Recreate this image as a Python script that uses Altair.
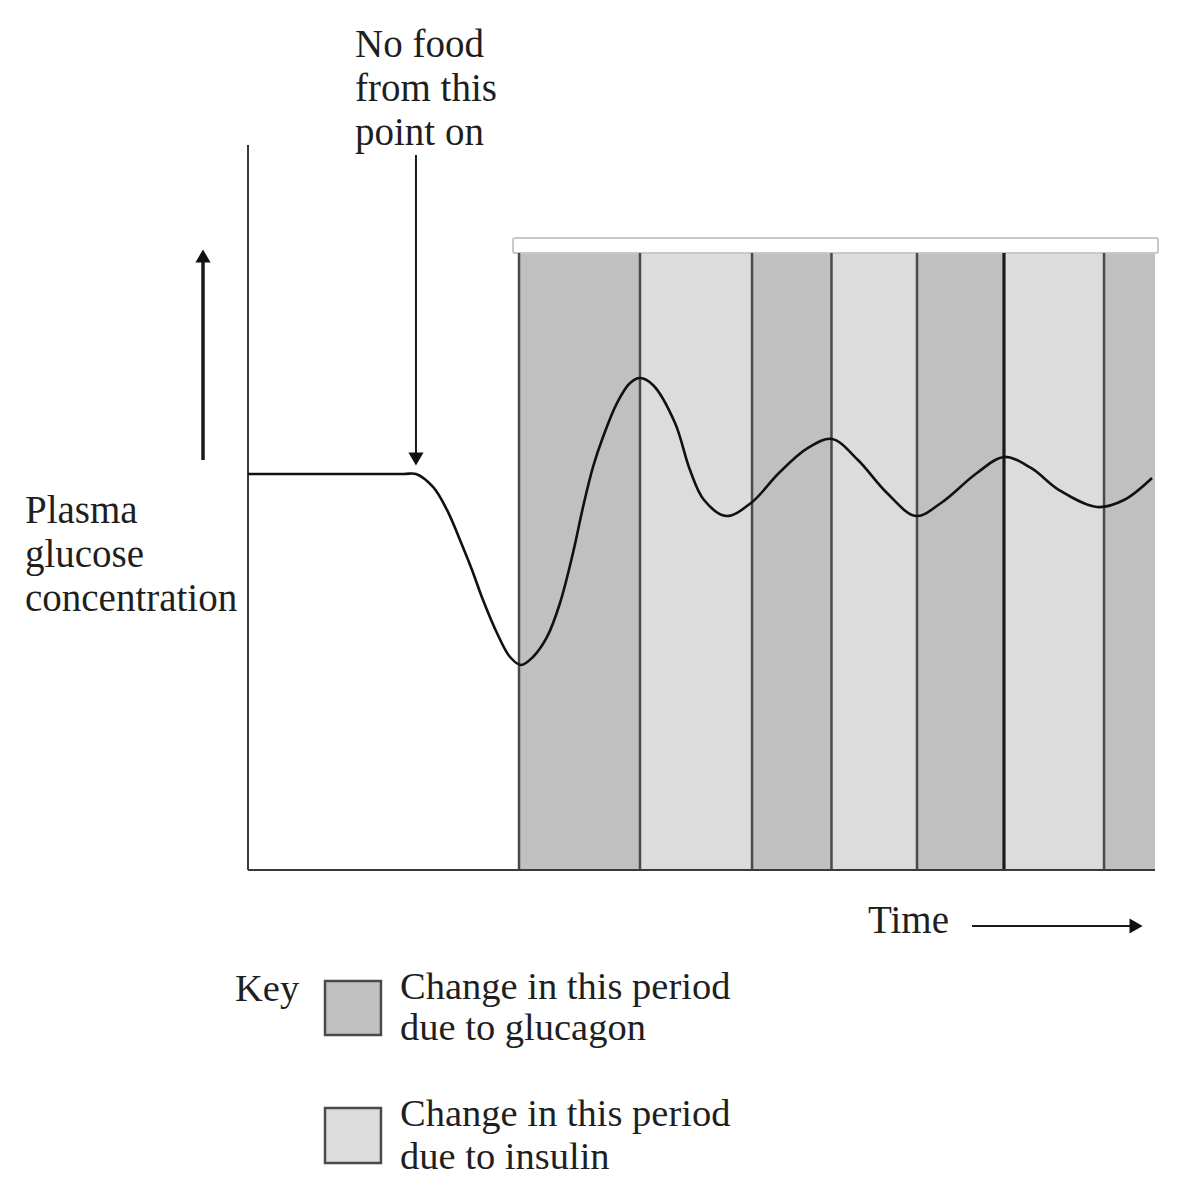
import altair as alt
import pandas as pd

# ---------------- data (time and glucose in arbitrary units, 0-100) ----------------
curve_time = [0.00, 10.0, 17.20, 18.52, 20.40, 21.94, 23.37, 24.70, 25.91, 27.45, 28.89, 30.10,
              31.42, 32.97, 34.40, 35.83, 36.94, 38.04, 39.14, 40.68, 42.12, 43.22,
              44.65, 47.08, 48.73, 50.28, 52.70, 55.46, 58.54, 61.74, 64.39, 67.25,
              70.45, 73.65, 76.41, 80.37, 83.35, 86.33, 89.42, 93.61, 96.58, 99.67]
curve_glucose = [54.62, 54.62, 54.62, 54.62, 52.83, 49.66, 45.52, 41.38, 37.24, 32.69, 29.38, 28.28,
                 29.38, 32.14, 36.83, 43.72, 50.07, 55.59, 59.72, 64.41, 67.17, 67.86,
                 66.90, 61.66, 55.17, 51.03, 48.83, 50.62, 54.76, 58.21, 59.45, 56.55,
                 52.00, 48.83, 50.62, 54.76, 56.97, 55.45, 52.41, 50.07, 51.03, 54.07]

band_start = [29.88, 43.22, 55.57, 64.33, 73.76, 83.35, 94.38]
band_end = [43.22, 55.57, 64.33, 73.76, 83.35, 94.38, 100.0]
band_hormone = ["glucagon", "insulin", "glucagon", "insulin", "glucagon", "insulin", "glucagon"]
boundary_dark = [False, False, False, False, False, True, False]
band_top = 85.1

hormones = ["glucagon", "insulin"]
hormone_colors = ["#c0c0c0", "#dcdcdc"]

note_lines = ["No food", "from this", "point on"]
ylabel_lines = ["Plasma", "glucose", "concentration"]
xlabel = "Time"
key_title = "Key"
key_lines = ["Change in this period", "due to glucagon", "Change in this period", "due to insulin"]

# ---------------- scales ----------------
xs = alt.Scale(domain=[0, 100], nice=False, zero=False)
ys = alt.Scale(domain=[0, 100], nice=False, zero=False)


def X(f):
    return alt.X(f, type="quantitative", scale=xs, axis=None)


def Y(f):
    return alt.Y(f, type="quantitative", scale=ys, axis=None)


color_enc = alt.Color("hormone:N", scale=alt.Scale(domain=hormones, range=hormone_colors), legend=None)
FONT = "Liberation Serif"
TXT = "#1f1f1f"

# bands
bands_df = pd.DataFrame({"t0": band_start, "t1": band_end, "hormone": band_hormone,
                         "g0": [0] * len(band_start), "g1": [band_top] * len(band_start)})
bands = alt.Chart(bands_df).mark_rect().encode(
    x=X("t0"), x2="t1", y=Y("g0"), y2="g1", color=color_enc)

# white strip above bands
strip_df = pd.DataFrame({"t0": [29.22], "t1": [100.33], "g0": [band_top], "g1": [87.17]})
strip = alt.Chart(strip_df).mark_rect(fill="white", stroke="#c8c8c8", strokeWidth=2, cornerRadius=2).encode(
    x=X("t0"), x2="t1", y=Y("g0"), y2="g1")

# period boundaries
bound_df = pd.DataFrame({"t": band_start, "g0": [0] * len(band_start), "g1": [band_top] * len(band_start),
                         "dark": boundary_dark})
bounds = alt.Chart(bound_df).mark_rule(color="#4a4a4a", strokeWidth=2.5).encode(
    x=X("t"), y=Y("g0"), y2="g1").transform_filter("!datum.dark")
bounds_dark = alt.Chart(bound_df).mark_rule(color="#1a1a1a", strokeWidth=3.2).encode(
    x=X("t"), y=Y("g0"), y2="g1").transform_filter("datum.dark")

# axes lines
axes_df = pd.DataFrame({"t0": [0, 0], "t1": [0, 100], "g0": [0, 0], "g1": [100, 0]})
axes = alt.Chart(axes_df).mark_rule(color="#3a3a3a", strokeWidth=2).encode(
    x=X("t0"), x2="t1", y=Y("g0"), y2="g1")

# glucose curve
curve_df = pd.DataFrame({"t": curve_time, "g": curve_glucose})
curve = alt.Chart(curve_df).mark_line(interpolate="catmull-rom", color="#111111", strokeWidth=2.6).encode(
    x=X("t"), y=Y("g"))

# arrows (shafts)
shaft_df = pd.DataFrame({"t0": [-4.96, 18.52, 79.82], "t1": [-4.96, 18.52, 97.46],
                         "g0": [56.55, 98.62, -7.72], "g1": [83.86, 57.24, -7.72],
                         "thick": [True, False, False]})
shafts = alt.Chart(shaft_df).mark_rule(color="#1a1a1a", strokeWidth=2).encode(
    x=X("t0"), x2="t1", y=Y("g0"), y2="g1").transform_filter("!datum.thick")
shafts_thick = alt.Chart(shaft_df).mark_rule(color="#1a1a1a", strokeWidth=3.5).encode(
    x=X("t0"), x2="t1", y=Y("g0"), y2="g1").transform_filter("datum.thick")

heads_df = pd.DataFrame({"t": [-4.96, 18.52, 97.91], "g": [84.69, 56.69, -7.72],
                         "shape": ["triangle-up", "triangle-down", "triangle-right"]})
heads = alt.Chart(heads_df).mark_point(filled=True, color="#111111", opacity=1, size=230).encode(
    x=X("t"), y=Y("g"),
    shape=alt.Shape("shape:N", scale=None))

# texts
text_df = pd.DataFrame({
    "t": [11.80] * 3 + [-24.59] * 3 + [68.36],
    "g": [112.14, 106.07, 100.0, 47.86, 41.79, 35.72, -8.69],
    "label": note_lines + ylabel_lines + [xlabel],
})
texts = alt.Chart(text_df).mark_text(align="left", baseline="alphabetic", font=FONT, fontSize=39,
                                     color=TXT).encode(x=X("t"), y=Y("g"), text="label:N")

key_df = pd.DataFrame({
    "t": [-1.43] + [16.76] * 4,
    "g": [-18.07, -17.79, -23.45, -35.31, -41.24],
    "label": [key_title] + key_lines,
})
key_texts = alt.Chart(key_df).mark_text(align="left", baseline="alphabetic", font=FONT, fontSize=38.5,
                                        color=TXT).encode(x=X("t"), y=Y("g"), text="label:N")

keybox_df = pd.DataFrame({"t0": [8.49, 8.49], "t1": [14.66, 14.66], "g0": [-15.31, -32.83],
                          "g1": [-22.76, -40.41], "hormone": hormones})
keyboxes = alt.Chart(keybox_df).mark_rect(stroke="#4a4a4a", strokeWidth=2.5).encode(
    x=X("t0"), x2="t1", y=Y("g0"), y2="g1", color=color_enc)

chart = alt.layer(bands, strip, bounds, bounds_dark, axes, curve, shafts, shafts_thick, heads,
                  texts, key_texts, keyboxes).properties(
    width=907, height=725,
    padding={"left": 240, "top": 137, "right": 37, "bottom": 322},
    autosize=alt.AutoSizeParams(type="none"),
    background="white",
).configure_view(stroke=None)

chart.save("out.html", embed_options={"renderer": "svg", "actions": False})
